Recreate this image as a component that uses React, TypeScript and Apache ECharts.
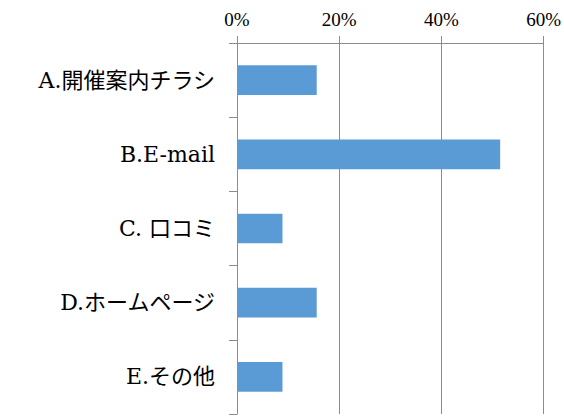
import React, { useEffect, useRef } from "react";
import * as echarts from "echarts";

const categories = ["A.開催案内チラシ", "B.E-mail", "C. 口コミ", "D.ホームページ", "E.その他"];
const values = [0.156, 0.515, 0.089, 0.156, 0.089];
const tickValues = [0, 0.2, 0.4, 0.6];

export default function App() {
  const ref = useRef<HTMLDivElement>(null);
  useEffect(() => {
    if (!ref.current) return;
    const chart = echarts.init(ref.current, null, { renderer: "svg" });
    chart.setOption({
      animation: false,
      grid: { left: 237, right: 19, top: 43, bottom: 2, containLabel: false },
      xAxis: {
        type: "value",
        position: "top",
        min: tickValues[0],
        max: tickValues[tickValues.length - 1],
        interval: 0.2,
        axisLine: { show: true, lineStyle: { color: "#8c8c8c", width: 1 } },
        axisTick: { show: true, length: 7, lineStyle: { color: "#8c8c8c" } },
        splitLine: { show: true, lineStyle: { color: "#8c8c8c", width: 1 } },
        axisLabel: {
          formatter: (v: number) => Math.round(v * 100) + "%",
          fontSize: 19,
          color: "#000",
          fontFamily: "'Liberation Serif', serif",
          margin: 14,
        },
      },
      yAxis: {
        type: "category",
        inverse: true,
        data: categories,
        axisLine: { show: true, lineStyle: { color: "#8c8c8c", width: 1 } },
        axisTick: { show: true, length: 8, lineStyle: { color: "#8c8c8c" } },
        axisLabel: {
          fontSize: 22,
          color: "#000",
          fontFamily: "'DejaVu Serif', 'Noto Sans CJK JP', serif",
          margin: 22,
        },
      },
      series: [
        {
          type: "bar",
          data: values,
          barWidth: "40%",
          itemStyle: { color: "#5B9BD5" },
        },
      ],
    });
    return () => chart.dispose();
  }, []);
  return <div ref={ref} style={{ width: 564, height: 416, position: "absolute", left: 0, top: 0 }} />;
}
